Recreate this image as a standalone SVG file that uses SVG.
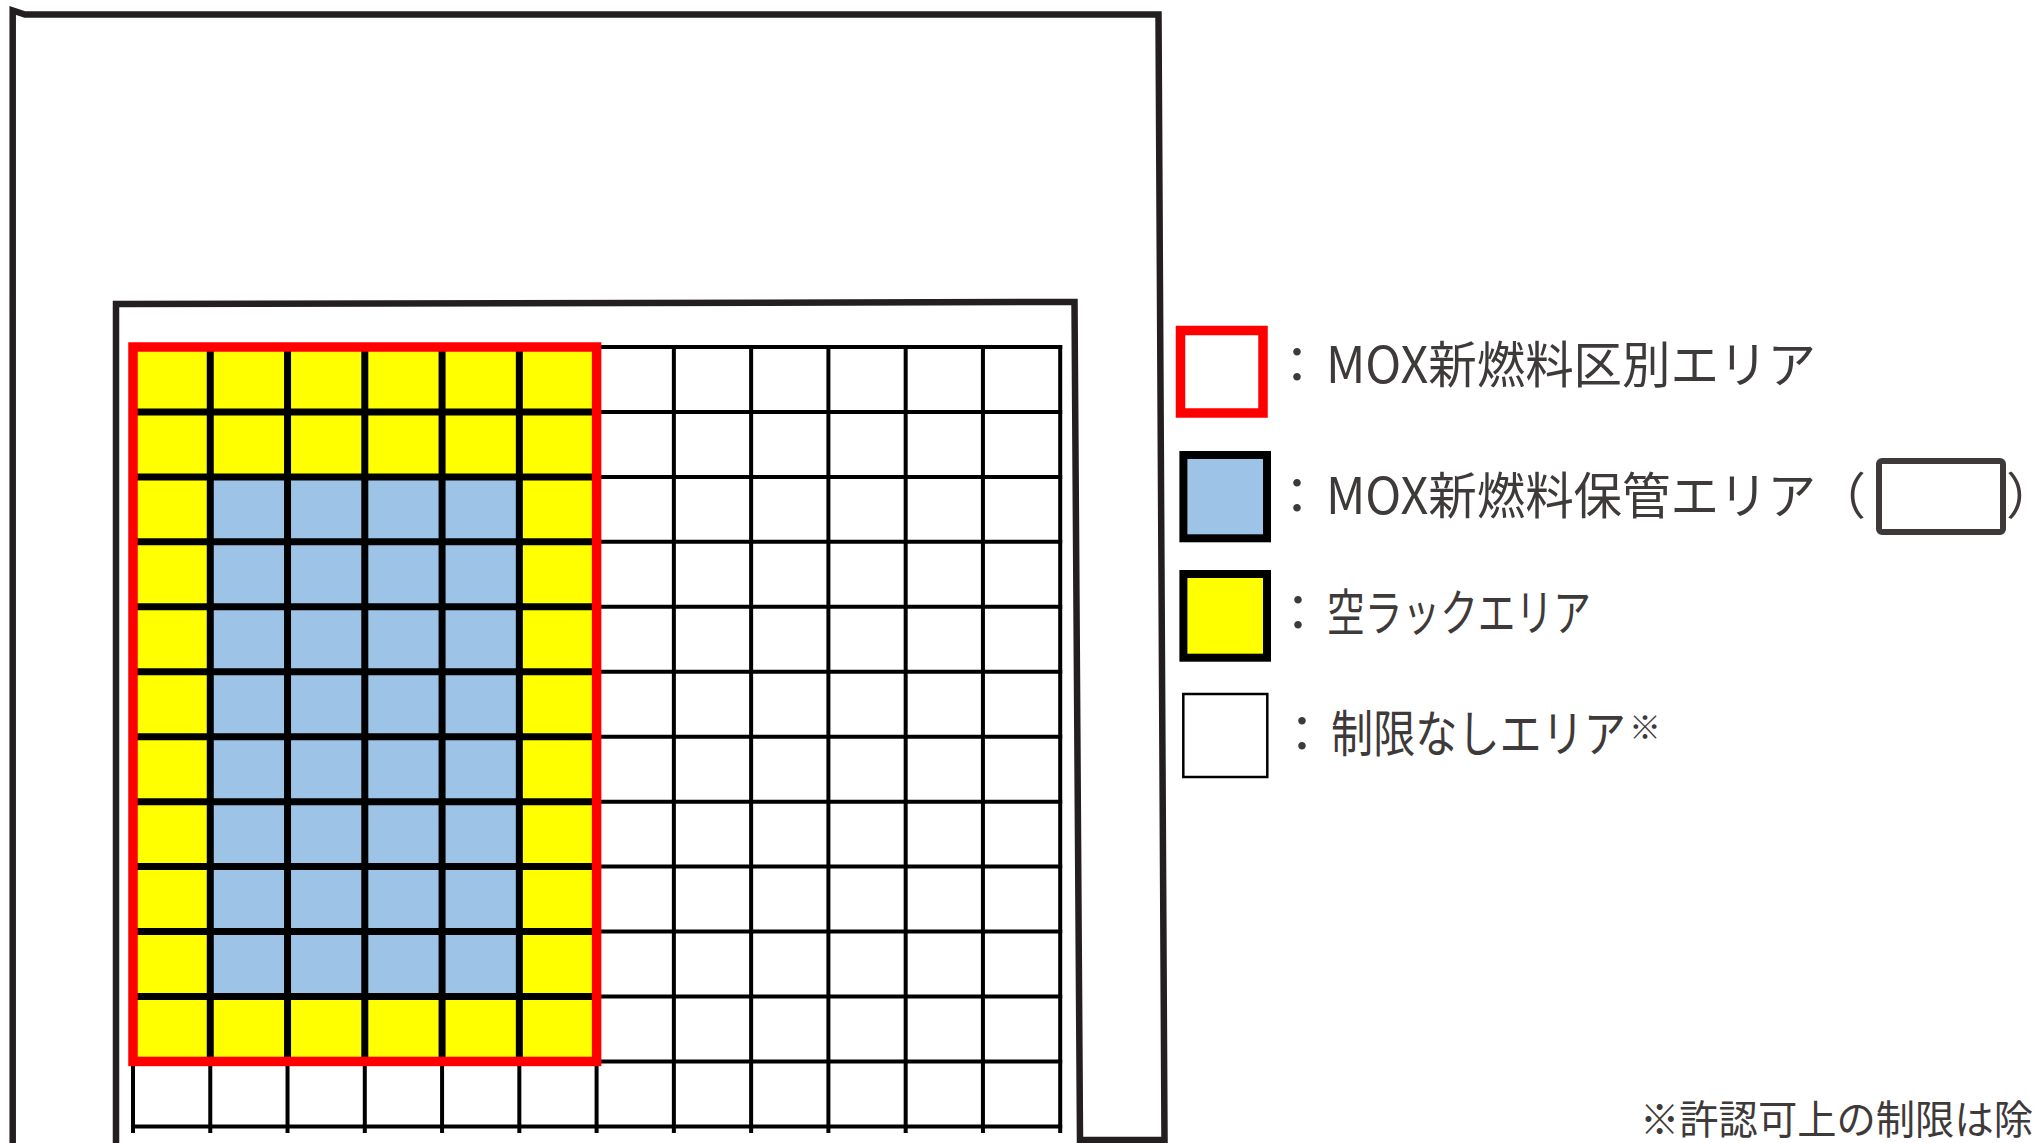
<svg xmlns="http://www.w3.org/2000/svg" width="2036" height="1143" viewBox="0 0 2036 1143">
<style>
.frame{fill:none;stroke:#231F20;stroke-width:6.5;stroke-linejoin:miter;stroke-miterlimit:10}
.thick{stroke:#000;stroke-width:7;fill:none}
.thin{stroke:#000;stroke-width:4;fill:none}
.red{fill:none;stroke:#FF0000;stroke-width:9.5}
.txt{font-family:"Noto Sans CJK JP","Noto Sans",sans-serif;fill:#3F3A3A;font-size:50px}
.yel{fill:#FFFF00}
.blu{fill:#9DC3E6}
</style>
<rect width="2036" height="1143" fill="#fff"/>
<g id="walls">
<path class="frame" d="M12.7,1150 L12.7,10.5 L25,14.5 L1158.5,14.5 L1164.5,1140 L1080,1140 L1074.5,302 L116,304 L116,1150"/>
</g>
<g id="rack-grid">
<rect class="yel" x="133" y="347" width="463.6" height="714.45"/>
<rect class="blu" x="210.27" y="476.9" width="309.06" height="519.6"/>
<g id="thick-lines">
<path class="thick" d="M210.27,347V1061.45M287.53,347V1061.45M364.8,347V1061.45M442.07,347V1061.45M519.33,347V1061.45"/>
<path class="thick" d="M133,411.95H596.6M133,476.9H596.6M133,541.85H596.6M133,606.8H596.6M133,671.75H596.6M133,736.7H596.6M133,801.65H596.6M133,866.6H596.6M133,931.55H596.6M133,996.5H596.6"/>
</g>
<g id="thin-lines">
<path class="thin" d="M596.6,347H1062.2M596.6,411.95H1062.2M596.6,476.9H1062.2M596.6,541.85H1062.2M596.6,606.8H1062.2M596.6,671.75H1062.2M596.6,736.7H1062.2M596.6,801.65H1062.2M596.6,866.6H1062.2M596.6,931.55H1062.2M596.6,996.5H1062.2M596.6,1061.45H1062.2M131,1126.4H1062.2"/>
<path class="thin" d="M673.87,345V1133M751.13,345V1133M828.4,345V1133M905.67,345V1133M982.93,345V1133M1060.2,345V1133"/>
<path class="thin" d="M133,1061.45V1133M210.27,1061.45V1133M287.53,1061.45V1133M364.8,1061.45V1133M442.07,1061.45V1133M519.33,1061.45V1133M596.6,1061.45V1133"/>
</g>
<rect id="mox-area" class="red" x="133" y="347" width="463.6" height="714.45"/>
</g>
<g id="legend-mox-area">
<rect class="red" x="1180.5" y="330.5" width="82.5" height="82.5"/>
<text class="txt" x="1297" y="383" text-anchor="middle">：</text>
<text class="txt" x="1326" y="383" textLength="490" lengthAdjust="spacingAndGlyphs">MOX新燃料区別エリア</text>
</g>
<g id="legend-mox-storage">
<rect class="blu" x="1183.4" y="455" width="83.6" height="83.3" stroke="#000" stroke-width="8"/>
<text class="txt" x="1297" y="514" text-anchor="middle">：</text>
<text class="txt" x="1326" y="514" textLength="490" lengthAdjust="spacingAndGlyphs">MOX新燃料保管エリア</text>
<text class="txt" x="1816" y="514">（</text>
<rect x="1879" y="461" width="124" height="71" rx="3" fill="none" stroke="#3F3A3A" stroke-width="6"/>
<text class="txt" x="2006" y="514">）</text>
</g>
<g id="legend-empty-rack">
<rect class="yel" x="1183.4" y="574" width="83.6" height="83.7" stroke="#000" stroke-width="8"/>
<text class="txt" x="1298" y="631" text-anchor="middle">：</text>
<text class="txt" x="1327" y="631" textLength="264" lengthAdjust="spacingAndGlyphs">空ラックエリア</text>
</g>
<g id="legend-unrestricted">
<rect x="1183.3" y="694" width="84" height="83" fill="#fff" stroke="#000" stroke-width="2.5"/>
<text class="txt" x="1302" y="752" text-anchor="middle">：</text>
<text class="txt" x="1331" y="752" textLength="295" lengthAdjust="spacingAndGlyphs">制限なしエリア</text>
<text class="txt" x="1629" y="739" style="font-size:32px">※</text>
</g>
<g id="footnote">
<text class="txt" x="1640" y="1134" textLength="393" lengthAdjust="spacingAndGlyphs" style="font-size:40px">※許認可上の制限は除</text>
</g>
</svg>
